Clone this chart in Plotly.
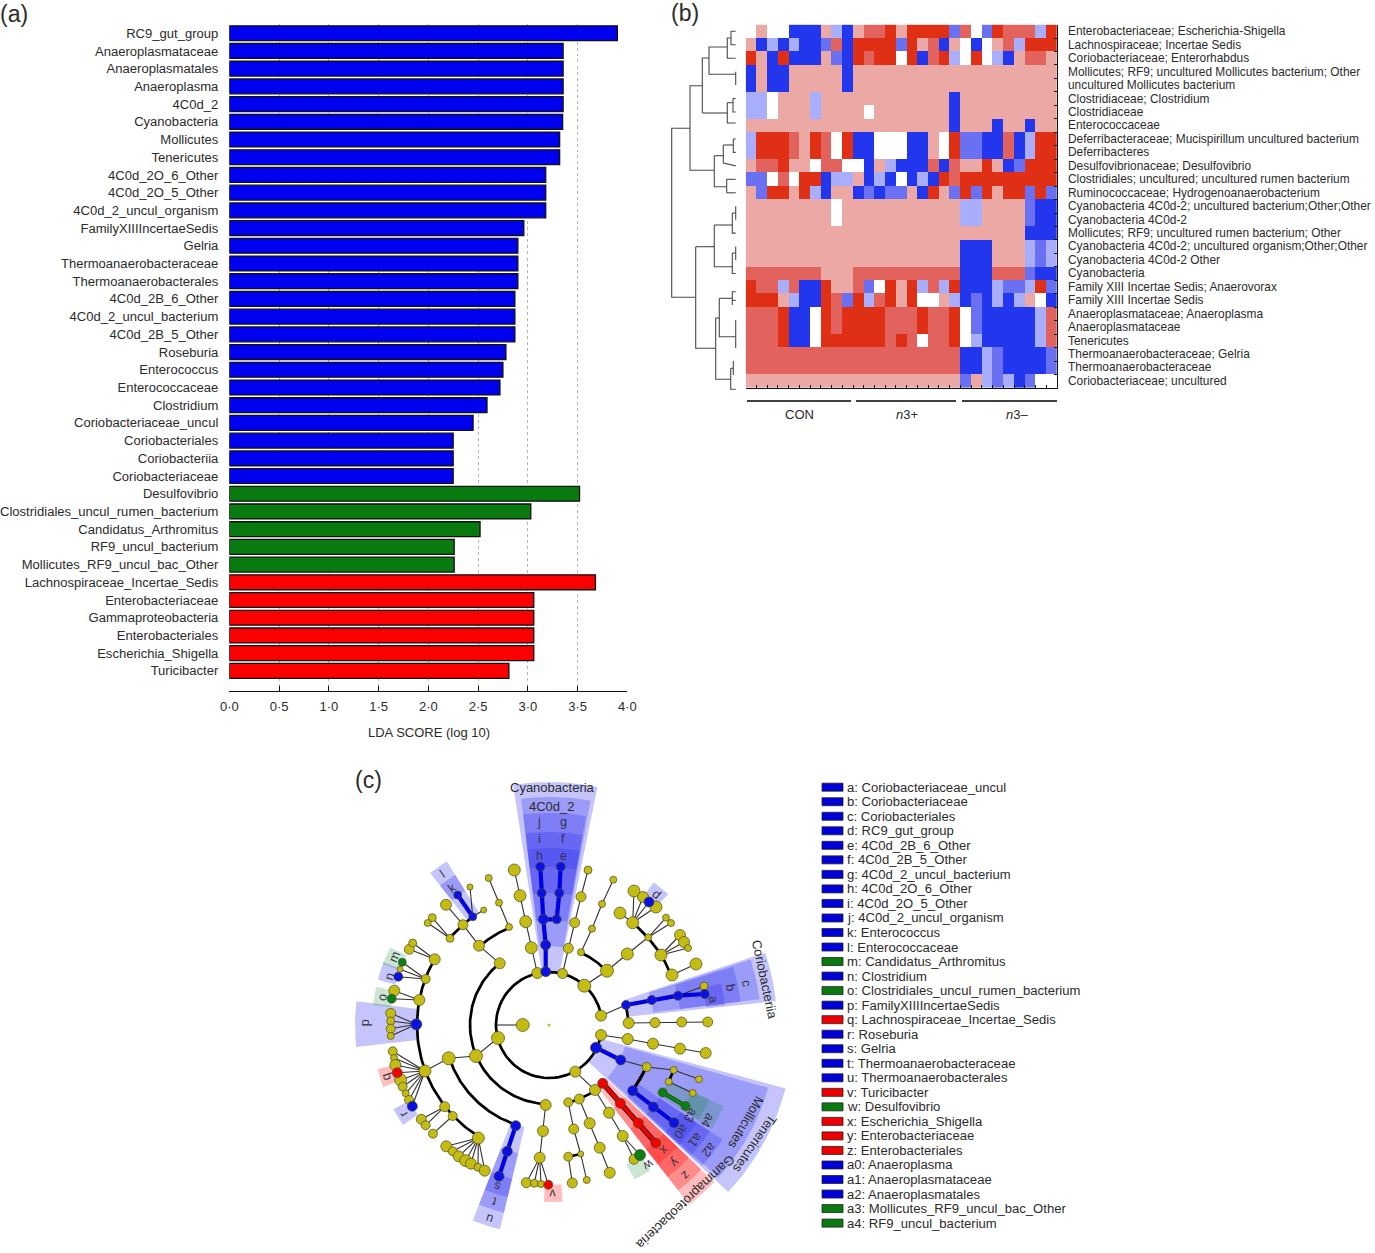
import numpy as np
import plotly.graph_objects as go

W, H = 1375, 1253
FONT = "Liberation Sans"
INK = "#2b2b2b"

# ---------- panel (a) ----------
lda_labels = ["RC9_gut_group","Anaeroplasmataceae","Anaeroplasmatales","Anaeroplasma","4C0d_2","Cyanobacteria",
              "Mollicutes","Tenericutes","4C0d_2O_6_Other","4C0d_2O_5_Other","4C0d_2_uncul_organism",
              "FamilyXIIIIncertaeSedis","Gelria","Thermoanaerobacteraceae","Thermoanaerobacterales",
              "4C0d_2B_6_Other","4C0d_2_uncul_bacterium","4C0d_2B_5_Other","Roseburia","Enterococcus",
              "Enterococcaceae","Clostridium","Coriobacteriaceae_uncul","Coriobacteriales","Coriobacteriia",
              "Coriobacteriaceae","Desulfovibrio","Clostridiales_uncul_rumen_bacterium","Candidatus_Arthromitus",
              "RF9_uncul_bacterium","Mollicutes_RF9_uncul_bac_Other","Lachnospiraceae_Incertae_Sedis",
              "Enterobacteriaceae","Gammaproteobacteria","Enterobacteriales","Escherichia_Shigella","Turicibacter"]
lda_values = [3.90,3.355,3.355,3.355,3.355,3.35,3.32,3.32,3.18,3.18,3.18,2.96,2.90,2.90,2.90,2.87,2.87,2.87,
              2.78,2.75,2.72,2.59,2.45,2.25,2.25,2.25,3.52,3.03,2.52,2.26,2.26,3.68,3.06,3.06,3.06,3.06,2.81]
lda_colors = ["#0000f0"]*26 + ["#087a10"]*5 + ["#fa0000"]*6
lda_ticks = [0,0.5,1,1.5,2,2.5,3,3.5,4]
lda_ticktext = ["0·0","0·5","1·0","1·5","2·0","2·5","3·0","3·5","4·0"]

# ---------- panel (b) ----------
heat_labels = ["Enterobacteriaceae; Escherichia-Shigella","Lachnospiraceae; Incertae Sedis","Coriobacteriaceae; Enterorhabdus",
 "Mollicutes; RF9; uncultured Mollicutes bacterium; Other","uncultured Mollicutes bacterium","Clostridiaceae; Clostridium",
 "Clostridiaceae","Enterococcaceae","Deferribacteraceae; Mucispirillum uncultured bacterium","Deferribacteres",
 "Desulfovibrionaceae; Desulfovibrio","Clostridiales; uncultured; uncultured rumen bacterium","Ruminococcaceae; Hydrogenoanaerobacterium",
 "Cyanobacteria 4C0d-2; uncultured bacterium;Other;Other","Cyanobacteria 4C0d-2","Mollicutes; RF9; uncultured rumen bacterium; Other",
 "Cyanobacteria 4C0d-2; uncultured organism;Other;Other","Cyanobacteria 4C0d-2 Other","Cyanobacteria",
 "Family XIII Incertae Sedis; Anaerovorax","Family XIII Incertae Sedis","Anaeroplasmataceae; Anaeroplasma","Anaeroplasmataceae",
 "Tenericutes","Thermoanaerobacteraceae; Gelria","Thermoanaerobacteraceae","Coriobacteriaceae; uncultured"]
heat_rows = [
 "WPWWBBBPLBPRRDPDDDDMRWMDRRRLD",
 "PBLBLBBMRBDDDDMDPRBPWBWPRLDDD",
 "DPBDBBBPMBDRDDWDBRDLWDWLBPRRP",
 "BPBBPPPPPBPPPPPPPPPPPPPPPPPPP",
 "BPBBPPPPPBPPPPPPPPPPPPPPPPPPP",
 "LLWPPPLPPPPPPPPPPPPBPPPPPPPPP",
 "LLWPPPLPPPPWPPPPPPPBPPPPPPPPP",
 "PPPPPPPPPPPPPPPPPPPBPPPBPPBPP",
 "LDDDRPDRWDBBWWWBBPWDMMBBRBLDD",
 "LDDDRPDRWDBBWWWBBPWDMMBBRBLDD",
 "PRRDPPWRRWWBPLBBBRBRPPDPBMDDD",
 "MMWRWDDBLLPBLBWBLBDRDDDDDDDDD",
 "PMDDPDLBPPBMBMMPBDPMDMDPDDMDM",
 "PPPPPPPPWPPPPPPPPPPPLLPPPPMBB",
 "PPPPPPPPWPPPPPPPPPPPLLPPPPMBB",
 "PPPPPPPPPPPPPPPPPPPPPPPPPPBBB",
 "PPPPPPPPPPPPPPPPPPPPBBBPPPLML",
 "PPPPPPPPPPPPPPPPPPPPBBBPPPLML",
 "RRRRRRRPPPRRRRRRRRRRBBBRRRMBB",
 "DRRLRBBDPPRMWDPDLRLDBBBLMMLDM",
 "DDDPLBBDRMDLRDPDWWPLBMBLBLPWB",
 "RRRDBBWDRDDDDRRRDRRDWMBBBBBLR",
 "RRRDBBWDRDDDDRRRDRRDWMBBBBBLR",
 "RRRDBBWDDDDDDRDRWRRDWLBBBBBLR",
 "RRRRRRRRRRRRRRRRRRRRBBLMBBBBM",
 "RRRRRRRRRRRRRRRRRRRRBBLMBBBBM",
 "PPPPPPPPPPPPPPPPPPPPMPLMLBMWW"]
heat_codes = "BMLWPRD"
heat_palette = ["#2236ee","#6a70f2","#a9aefc","#ffffff","#eba8a5","#e2635e","#df2f14"]
group_names = ["CON","<i>n</i>3+","<i>n</i>3–"]
group_x = [(747,851),(856,956),(962,1057)]
group_label_x = [799,907,1017]

dendro_segments = [
 [(735.7,31.3),(731,31.3),(731,44.8),(735.7,44.8)],[(731,38),(727.3,38),(727.3,58.2),(735.7,58.2)],
 [(727.3,47),(709,47),(709,74.3),(735.7,74.3)],[(735.7,71.7),(735.7,85)],
 [(709,58),(702.3,58),(702.3,113)],[(702.3,113),(727.3,113)],[(727.3,102.7),(727.3,123),(735.7,123)],
 [(727.3,102.7),(733,102.7)],[(733,98.6),(735.7,98.6)],[(733,98.6),(733,112),(735.7,112)],
 [(702.3,85.7),(690,85.7),(690,170.3),(714.3,170.3)],
 [(714.3,155.7),(714.3,186.7),(726.7,186.7)],[(714.3,155.7),(723.3,155.7)],[(723.3,145),(723.3,163),(735.7,165.9)],
 [(723.3,145),(733.3,145)],[(733.3,139),(735.7,139)],[(733.3,139),(733.3,152.4),(735.7,152.4)],
 [(726.7,179.3),(726.7,192.8)],[(726.7,179.3),(735.7,179.3)],[(726.7,192.8),(735.7,192.8)],
 [(690,128.3),(671.7,128.3),(671.7,297.3),(695.7,297.3)],
 [(695.7,246.7),(695.7,348.3),(715.7,348.3)],[(695.7,246.7),(714.3,246.7)],
 [(714.3,225),(714.3,266.7),(732.3,266.7)],[(714.3,225),(732.3,225)],
 [(732.3,213),(732.3,233.1),(735.7,233.1)],[(732.3,213),(735.7,213)],[(735.7,206.2),(735.7,219.7)],
 [(732.3,253),(732.3,273.5),(735.7,273.5)],[(732.3,253),(735.7,253)],[(735.7,246.6),(735.7,260)],
 [(715.7,318),(715.7,379.3),(730.7,379.3)],[(715.7,318),(719.3,318)],
 [(719.3,298.3),(719.3,336.7),(735.7,336.7)],[(719.3,298.3),(732.3,298.3)],
 [(732.3,291.7),(732.3,305)],[(732.3,291.7),(735.7,291.7)],[(732.3,300.4),(735.7,300.4)],
 [(735.7,320),(735.7,348)],
 [(730.7,368.3),(730.7,389.3),(735.7,389.3)],[(730.7,368.3),(733.3,368.3)],[(733.3,361),(733.3,375)],
]

# ---------- panel (c) ----------
clado_center = (549.0, 1025.0)
# wedges: angle from, angle to (deg), inner radius, outer radius
wedges_blue = [
 (78.5,98.5,53,243),(79.5,97,79,228),(89.3,97,105,212),(89.3,97,132,193),(89.3,97,158,177),
 (80,89.3,105,212),(80,89.3,132,193),(80,89.3,158,177),
 (6,18.5,79,228),(7,18,105,212),(7,17.5,132,193),(6.5,13.5,158,177),
 (-43,-15,53,245),(-42,-16,79,228),(-42.6,-33.5,106,208),(-42.6,-33.5,132,193),(-42.6,-33.5,158,177),
 (248.7,256.5,105,210),(248.7,256.5,132,193),(248.7,256.5,158,177),
 (173,186.5,132,194),(122,128,132,193),(122,128,158,177),
 (159.2,165.2,159,177),(208.4,214.4,159,177),(47.7,53.7,159,177)]
wedges_red = [(-52,-43.5,79,228),(-52,-43.5,105,210),(-52,-43.5,132,193),(-52,-43.5,158,177),
 (194.5,200.5,160,177),(-91.6,-85.6,160,177)]
wedges_green = [(-32.5,-25,132,193),(-32.5,-25,158,177),(-61,-55,159,177),(167.5,173.5,159,177),(153.9,159.9,159,177)]

ring_arcs = [(53,10,334),(53,334,349),(79,128,268),(79,43,66),(80,284,313),(105,112,131.5),(105,198,252),
             (132,130.7,138.7),(132,150,238),(132,22,50.5),(106,-37.7,-23.2)]

thin_edges = [
 [(496.7,1025),(522.7,1025)],
 [(537.3,973),(531.3,947.7),(525.7,921.7),(520,895.7),(514.3,870)],
 [(562.5,973.5),(568.3,948.3),(574.7,922.7),(581,896.7),(588,870)],
 [(581,952.3),(592,928.7),(602,904),(613.3,879.7)],
 [(584.3,985.7),(607,970.7),(627.3,954),(648.3,937.3)],
 [(632.7,922.7),(634,891)],[(632.7,922.7),(643,897)],[(632.7,922.7),(649,902)],[(632.7,922.7),(656,907)],[(632.7,922.7),(620,913)],
 [(648.3,937.3),(666,917.7)],[(648.3,937.3),(671,923)],
 [(661,955),(680,935)],[(661,955),(684,942)],[(661,955),(688,948)],[(672,975),(696,964)],
 [(601,1015.7),(626,1005)],[(678,995.7),(704,986)],[(628.7,1023),(655,1022.7),(681.7,1022),(707.7,1022)],
 [(601,1035),(627.7,1039),(653,1043.7),(680,1048.7),(705.7,1053)],
 [(620.7,1060),(646.7,1067),(673.7,1070),(699,1079.3)],[(668.7,1081.7),(692.7,1093)],
 [(575.3,1071.7),(595,1090),(609,1112.7),(622.7,1136),(634,1159.3)],[(622.7,1136),(640,1155)],
 [(579.3,1099),(589.7,1123.3),(599.7,1147.7),(609.7,1172.7)],
 [(568.3,1102.3),(573.7,1129),(580.7,1154),(586.7,1180)],[(568.3,1156.7),(572.3,1183)],
 [(545.7,1105),(543,1131),(539.7,1157.7),(526.3,1182.7)],[(539.7,1157.7),(534.3,1183.3)],[(539.7,1157.7),(541,1184)],[(539.7,1157.7),(548.3,1184.7)],
 [(498,1038),(476,1056),(448.7,1058.3),(425,1071)],
 [(425,1071),(392.7,1051.3)],[(425,1071),(394,1058)],[(425,1071),(395.3,1065)],[(425,1071),(397.3,1072.7)],[(425,1071),(400.7,1080)],
 [(425,1071),(402.7,1086.7)],[(425,1071),(405.7,1093.3)],[(425,1071),(409,1100)],[(425,1071),(412.3,1106.3)],
 [(444.7,1106.7),(421.3,1119.3)],[(444.7,1106.7),(425.7,1125.3)],[(452.7,1116),(433,1133.7)],
 [(478.3,1138),(446.3,1146.3)],[(478.3,1138),(452.7,1151.3)],[(478.3,1138),(458.7,1156.3)],[(478.3,1138),(465.7,1160.7)],
 [(478.3,1138),(471,1163.7)],[(478.3,1138),(478,1167.3)],[(478.3,1138),(484.7,1170.7)],
 [(416.3,1024.3),(390.7,1013.3)],[(416.3,1024.3),(390.7,1021)],[(416.3,1024.3),(390.7,1028.7)],[(416.3,1024.3),(390.7,1036)],
 [(419.3,1000),(394.3,990.7)],[(419.3,1000),(391.7,998.7)],
 [(425.7,979),(398.3,976.7)],[(425.7,979),(400,969.3)],[(425.7,979),(402.3,962.3)],
 [(434.7,959.3),(409.3,949.3)],[(434.7,959.3),(412.7,943)],
 [(450,938.3),(432.3,917.7)],[(450,938.3),(427.7,923)],[(463,924.7),(446,904.7)],[(499.7,963.3),(479,945.7),(463,924.7)],
 [(509,927),(499,902.7),(488.7,878)],[(472.7,916.7),(470,887)],[(472.7,916.7),(483.7,910)],
]
thick_edges = [
 [(628.7,1023),(626,1005)],[(673.7,1070),(668.7,1081.7)],[(568.3,1156.7),(580.7,1154)],[(463,924.7),(472.7,916.7)],
 [(646.7,1067),(632.7,1090.7)],
]
blue_edges = [
 [(545.7,971.7),(545.7,945),(543.3,919.3),(541.7,893),(540.3,866.7)],
 [(543.3,919.3),(556.7,919.3),(559.3,893),(560.7,866.7)],
 [(626,1005),(651.7,1000),(678,995.7),(704.7,994)],[(596,1047.7),(620.7,1060)],
 [(632.7,1090.7),(653.3,1107),(674,1122.7)],[(472.7,916.7),(457.7,895)],
 [(515.7,1125.7),(507.3,1151.3),(499,1176.3)]]
red_edges = [[(602.7,1083.3),(620.3,1103.3),(638.3,1123),(655.7,1143)]]
green_edges = [[(662.7,1092.5),(685.5,1106)]]

yellow_nodes = [
 (537.3,973,10),(562.5,973.5,9),(584.3,985.7,12),(601,1015.7,10),(601,1035,10),(575.3,1071.7,10),(498,1038,12),(522.7,1025,12),
 (531.3,947.7,11),(525.7,921.7,11),(520,895.7,11),(514.3,870,11),(568.3,948.3,9),(574.7,922.7,9),(581,896.7,9),(588,870,7),
 (581,952.3,6),(592,928.7,6),(602,904,6),(613.3,879.7,6),(607,970.7,12),(627.3,954,11),(648.3,937.3,6),(632.7,922.7,11),
 (661,955,11),(672,975,11),(634,891,11),(643,897,10),(656,907,11),(620,913,11),(666,917.7,6),(671,923,6),(680,935,10),
 (684,942,10),(688,948,6),(696,964,11),(704,986,7),(628.7,1023,10),(655,1022.7,9),(681.7,1022,9),(707.7,1022,9),
 (627.7,1039,10),(653,1043.7,10),(680,1048.7,10),(705.7,1053,10),(646.7,1067,8),(673.7,1070,6),(699,1079.3,6),(668.7,1081.7,6),
 (692.7,1093,6),(595,1090,10),(579.3,1099,9),(568.3,1102.3,8),(609,1112.7,10),(622.7,1136,10),(634,1159.3,9),
 (589.7,1123.3,10),(599.7,1147.7,10),(609.7,1172.7,10),(573.7,1129,9),(580.7,1154,5),(568.3,1156.7,8),(572.3,1183,9),(586.7,1180,6),
 (545.7,1105,10),(543,1131,10),(539.7,1157.7,10),(526.3,1182.7,9),(534.3,1183.3,7),(541,1184,6),
 (476,1056,12),(448.7,1058.3,12),(425,1071,11),(444.7,1106.7,9),(452.7,1116,8),(478.3,1138,11),(421.3,1119.3,9),(425.7,1125.3,8),(433,1133.7,8),
 (446.3,1146.3,10),(452.7,1151.3,8),(458.7,1156.3,10),(465.7,1160.7,11),(471,1163.7,10),(478,1167.3,7),(484.7,1170.7,10),
 (392.7,1051.3,8),(394,1058,6),(395.3,1065,10),(400.7,1080,11),(402.7,1086.7,8),(405.7,1093.3,6),(409,1100,8),
 (390.7,1013.3,9),(390.7,1021,7),(390.7,1028.7,8),(390.7,1036,6),(419.3,1000,10),(425.7,979,8),(434.7,959.3,10),(394.3,990.7,10),
 (400,969.3,5),(409.3,949.3,9),(412.7,943,7),(450,938.3,7),(463,924.7,9),(479,945.7,10),(499.7,963.3,10),(509,927,6),(499,902.7,6),
 (488.7,878,6),(432.3,917.7,7),(427.7,923,6),(446,904.7,10),(470,887,5),(483.7,910,5)]
blue_nodes = [
 (545.7,971.7,9),(545.7,945,9),(543.3,919.3,9),(541.7,893,8),(540.3,866.7,8),(556.7,919.3,8),(559.3,893,8),(560.7,866.7,8),
 (626,1005,8),(651.7,1000,8),(678,995.7,8),(704.7,994,8),(596,1047.7,10),(620.7,1060,9),(632.7,1090.7,9),(653.3,1107,9),(674,1122.7,9),
 (649,902,9),(472.7,916.7,7),(457.7,895,7),(398.3,976.7,8),(416.3,1024.3,10),(412.3,1106.3,9),(515.7,1125.7,9),(507.3,1151.3,9),(499,1176.3,9)]
red_nodes = [(602.7,1083.3,9),(620.3,1103.3,9),(638.3,1123,9),(655.7,1143,9),(397.3,1072.7,9),(548.3,1184.7,8)]
green_nodes = [(662.7,1092.5,8),(685.5,1106,8),(640,1155,10),(391.7,998.7,8),(402.3,962.3,7)]

clade_text = ["Cyanobacteria","4C0d_2","Coriobacteriia","Tenericutes","Mollicutes","Gammaproteobacteria"]
clade_x = [552,552,765,755,746,685.5]
clade_y = [787,806,979,1143.5,1122.5,1201.7]
clade_angle = [0,0,78,124.6,120,136.6]

letter_text = ["j","g","i","f","h","e","c","b","a","a0","a1","a2","a3","a4","x","y","z","w","v","s","t","u","r","q","p","o","n","m","l","k","d"]
letter_x = [539,563.3,539,563.3,539,563.3,746,730,713,681,695,708.3,690.7,707.7,663.7,675,685.7,648.3,552.3,497.7,494,490,403.3,385.7,365,382,389,394.3,442.3,452.3,656]
letter_y = [822.3,822.3,839.3,839.3,856,856,983.3,987.3,999,1131.7,1140,1150,1115,1120,1150.7,1162.7,1175,1164.3,1193.3,1186.7,1201.7,1219,1114,1076.7,1023.3,997.7,976.7,956.7,874,888.3,894]
letter_angle = [0,0,0,0,0,0,79,79,79,128,128,128,120,120,137,137,137,148,178,198,198,198,238,252,-90,-80,-72,-67,-35,-35,40]

legend_text = ["a: Coriobacteriaceae_uncul","b: Coriobacteriaceae","c: Coriobacteriales","d: RC9_gut_group","e: 4C0d_2B_6_Other",
 "f: 4C0d_2B_5_Other","g: 4C0d_2_uncul_bacterium","h: 4C0d_2O_6_Other","i: 4C0d_2O_5_Other","j: 4C0d_2_uncul_organism","k: Enterococcus",
 "l: Enterococcaceae","m: Candidatus_Arthromitus","n: Clostridium","o: Clostridiales_uncul_rumen_bacterium","p: FamilyXIIIIncertaeSedis",
 "q: Lachnospiraceae_Incertae_Sedis","r: Roseburia","s: Gelria","t: Thermoanaerobacteraceae","u: Thermoanaerobacterales","v: Turicibacter",
 "w: Desulfovibrio","x: Escherichia_Shigella","y: Enterobacteriaceae","z: Enterobacteriales","a0: Anaeroplasma","a1: Anaeroplasmataceae",
 "a2: Anaeroplasmatales","a3: Mollicutes_RF9_uncul_bac_Other","a4: RF9_uncul_bacterium"]
legend_color = ["#0000d8"]*12 + ["#087a10","#0000d8","#087a10","#0000d8","#f00000","#0000d8","#0000d8","#0000d8","#0000d8","#f00000","#087a10",
 "#f00000","#f00000","#f00000","#0000d8","#0000d8","#0000d8","#087a10","#087a10"]

panel_text = ["(a)","(b)","(c)"]
panel_x = [14,685,368]
panel_y = [14,13,780]

# ---------- build ----------
def dom_y(top, bottom):
    return [1 - bottom / H, 1 - top / H]

fig = go.Figure()

fig.add_trace(go.Bar(x=lda_values, y=lda_labels, orientation="h", width=0.84,
                     marker=dict(color=lda_colors, line=dict(color="#111111", width=1.3)),
                     xaxis="x", yaxis="y", showlegend=False))

heat_z = [[heat_codes.index(c) for c in row] for row in heat_rows]
scale = []
for i, c in enumerate(heat_palette):
    scale += [[i / 7, c], [(i + 1) / 7, c]]
fig.add_trace(go.Heatmap(z=heat_z, x=list(range(29)), y=list(range(27)), colorscale=scale, zmin=-0.5, zmax=6.5,
                         showscale=False, xaxis="x2", yaxis="y2", xgap=0, ygap=0))

def line_trace(pts, color, width):
    fig.add_trace(go.Scatter(x=[p[0] for p in pts], y=[p[1] for p in pts], mode="lines",
                             line=dict(color=color, width=width), xaxis="x3", yaxis="y3",
                             showlegend=False, hoverinfo="skip"))

for seg in dendro_segments:
    line_trace(seg, "#4a4a4a", 1.1)
for (x0, x1) in group_x:
    line_trace([(x0, 401), (x1, 401)], "#000000", 1.6)

cx, cy = clado_center
def wedge_trace(w, rgba):
    a0, a1, r0, r1 = w
    t = np.radians(np.linspace(a0, a1, 30))
    xs = np.r_[cx + r1 * np.cos(t), cx + r0 * np.cos(t[::-1])]
    ys = np.r_[cy - r1 * np.sin(t), cy - r0 * np.sin(t[::-1])]
    fig.add_trace(go.Scatter(x=np.r_[xs, xs[0]], y=np.r_[ys, ys[0]], mode="lines", fill="toself", fillcolor=rgba,
                             line=dict(width=0, color=rgba), xaxis="x3", yaxis="y3", showlegend=False, hoverinfo="skip"))
for w in wedges_blue:
    wedge_trace(w, "rgba(45,45,240,0.28)")
for w in wedges_red:
    wedge_trace(w, "rgba(255,0,0,0.26)")
for w in wedges_green:
    wedge_trace(w, "rgba(0,130,40,0.2)")

for r, a0, a1 in ring_arcs:
    t = np.radians(np.linspace(a0, a1, 80))
    line_trace(list(zip(cx + r * np.cos(t), cy - r * np.sin(t))), "#000000", 2.7)
for e in thin_edges:
    line_trace(e, "#303030", 1.1)
for e in thick_edges:
    line_trace(e, "#000000", 2.7)
for e in blue_edges:
    line_trace(e, "#0000e0", 4.2)
for e in red_edges:
    line_trace(e, "#3a0000", 5.4); line_trace(e, "#f00000", 3.6)
for e in green_edges:
    line_trace(e, "#003a00", 4.2); line_trace(e, "#0a8a0a", 2.8)

def node_trace(nodes, color):
    fig.add_trace(go.Scatter(x=[n[0] for n in nodes], y=[n[1] for n in nodes], mode="markers",
                             marker=dict(color=color, opacity=1, size=[n[2] + 1 for n in nodes], line=dict(color="#4a4a20", width=0.7)),
                             xaxis="x3", yaxis="y3", showlegend=False, hoverinfo="skip"))
node_trace(yellow_nodes, "#c4bc12")
node_trace(blue_nodes, "#0a10e6")
node_trace(red_nodes, "#f40000")
node_trace(green_nodes, "#0a8014")
fig.add_trace(go.Scatter(x=[cx], y=[cy], mode="markers", marker=dict(color="#c4bc12", size=3), xaxis="x3", yaxis="y3",
                         showlegend=False, hoverinfo="skip"))

annotations, shapes = [], []
def note(text, x, y, size, angle=0, anchor="center", color=INK):
    annotations.append(dict(text=text, x=x, y=y, xref="x3", yref="y3", showarrow=False, xanchor=anchor, yanchor="middle",
                            textangle=angle, font=dict(family=FONT, size=size, color=color), borderpad=0, borderwidth=0))

for t, x, y in zip(panel_text, panel_x, panel_y):
    note(t, x, y, 23)
note("LDA SCORE (log 10)", 428.5, 732.5, 13)
for t, x in zip(group_names, group_label_x):
    note(t, x, 414, 13)
for i, t in enumerate(heat_labels):
    note(t, 1067.5, 31.3 + i * 13.445, 11.9, anchor="left")
for t, x, y, a in zip(clade_text, clade_x, clade_y, clade_angle):
    note(t, x, y, 13, angle=a)
for t, x, y, a in zip(letter_text, letter_x, letter_y, letter_angle):
    note(t, x, y, 12.6, angle=a, color="#333344")
for i, (t, c) in enumerate(zip(legend_text, legend_color)):
    yy = 787.2 + i * 14.53
    note(t, 847, yy, 13.08, anchor="left")
    shapes.append(dict(type="rect", xref="x3", yref="y3", x0=822, x1=843, y0=yy - 4, y1=yy + 4,
                       fillcolor=c, line=dict(color="#222222", width=0.8)))

fig.update_layout(
    width=W, height=H, margin=dict(l=0, r=0, t=0, b=0, autoexpand=False), paper_bgcolor="white", plot_bgcolor="rgba(0,0,0,0)",
    showlegend=False, bargap=0.15, annotations=annotations, shapes=shapes,
    font=dict(family=FONT, color=INK),
    xaxis=dict(domain=[229.3 / W, 627.3 / W], range=[0, 4], tickvals=lda_ticks, ticktext=lda_ticktext, ticks="inside",
               ticklen=5, tickwidth=1.2, tickcolor="#111", showline=True, linecolor="#111", linewidth=1.2, showgrid=True,
               gridcolor="#b4b4b4", griddash="dot", gridwidth=1, zeroline=False, tickfont=dict(size=13, color=INK),
               anchor="y", ticklabelstandoff=4, automargin=False),
    yaxis=dict(domain=dom_y(23.5, 690.7), type="category", categoryorder="array", categoryarray=lda_labels,
               range=[37.12, -0.55], showline=False, showgrid=False, zeroline=False, ticks="", tickfont=dict(size=13.05, color=INK),
               anchor="x", ticklabelstandoff=10, automargin=False),
    xaxis2=dict(domain=[745.7 / W, 1057 / W], range=[-0.5, 28.5], tickvals=[i - 0.5 for i in range(30)], ticktext=[""] * 30,
                ticks="inside", ticklen=3, tickcolor="#111", showline=True, linecolor="#111", linewidth=1, showgrid=False,
                zeroline=False, anchor="y2", automargin=False),
    yaxis2=dict(domain=dom_y(24.6, 388), range=[26.5, -0.5], side="right", tickvals=[i - 0.5 for i in range(28)], ticktext=[""] * 28,
                ticks="inside", ticklen=3, tickcolor="#111", showline=True, linecolor="#111", linewidth=1, showgrid=False,
                zeroline=False, anchor="x2", automargin=False),
    xaxis3=dict(domain=[0, 1], range=[0, W], visible=False, anchor="y3", fixedrange=True, automargin=False),
    yaxis3=dict(domain=[0, 1], range=[H, 0], visible=False, anchor="x3", fixedrange=True, automargin=False),
)

fig.write_html("out.html", config={"displayModeBar": False}, post_script="document.body.style.margin='0';")
